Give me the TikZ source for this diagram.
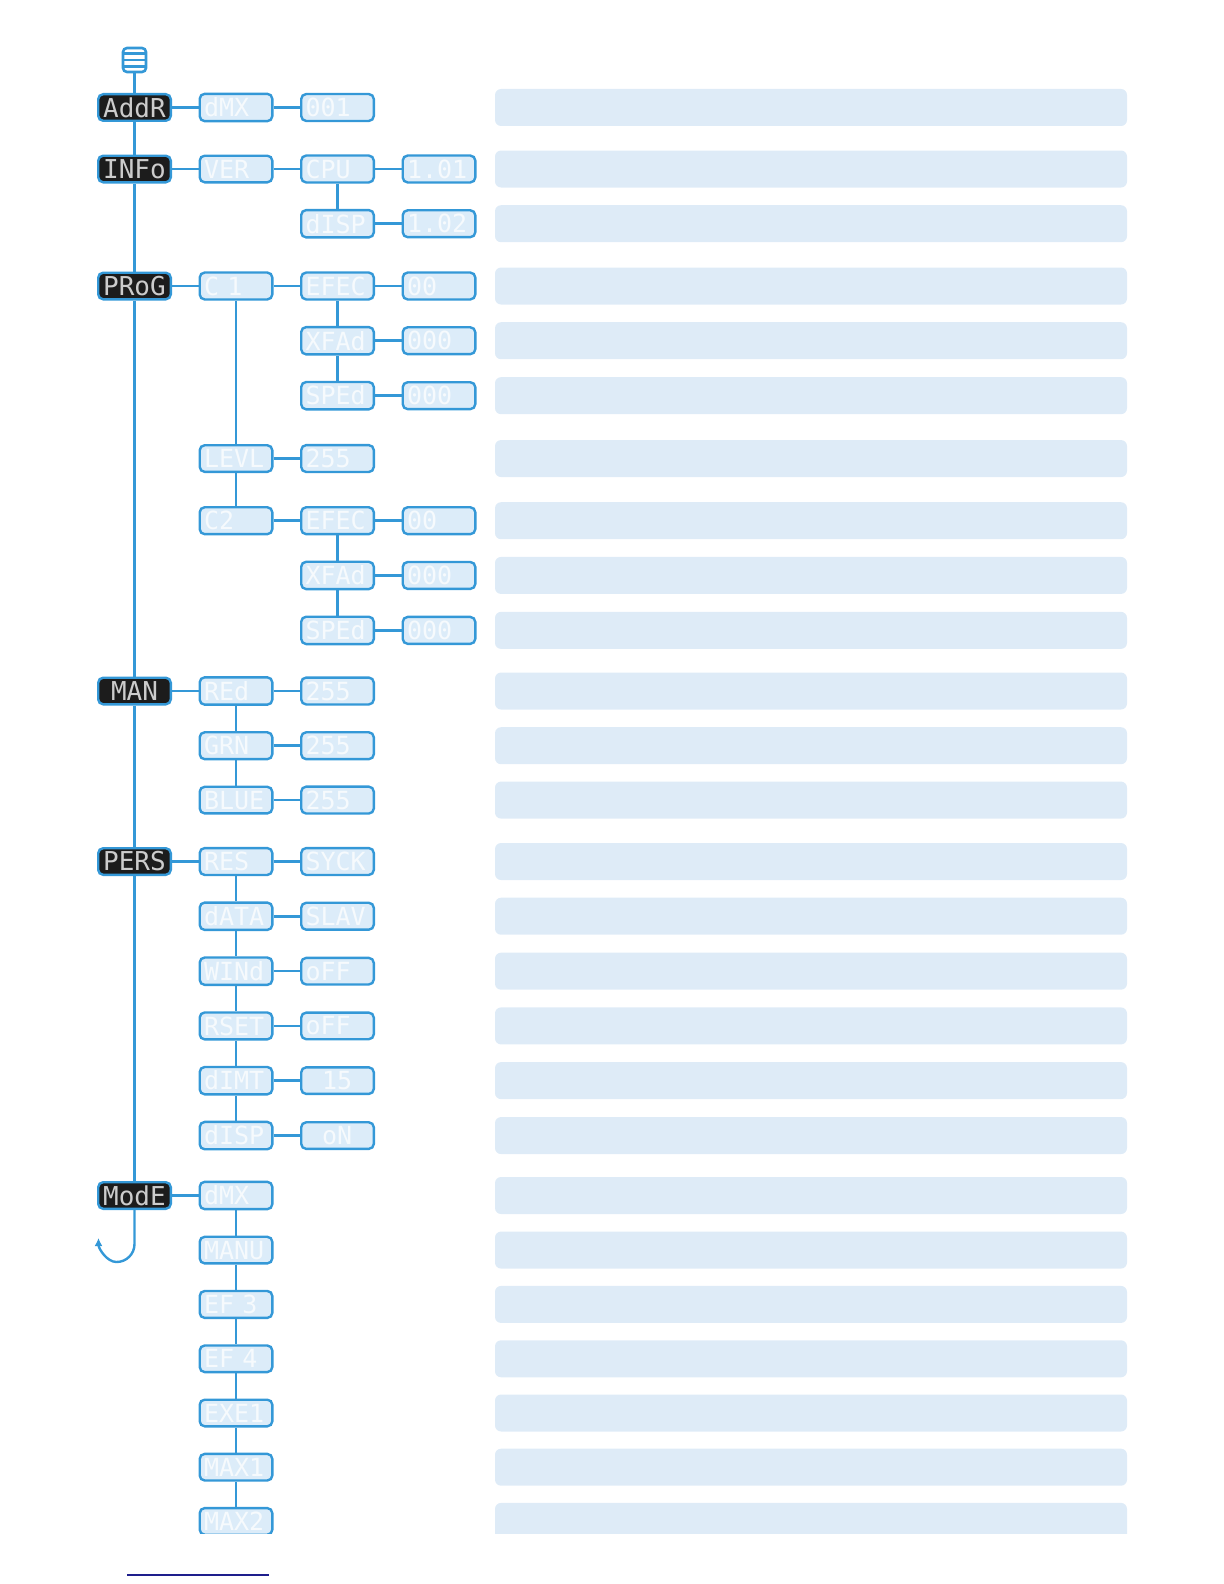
\documentclass[tikz,border=0pt]{standalone}
\usepackage{fontspec}
\usepackage{xcolor}
\usetikzlibrary{positioning, arrows.meta, calc}
\newfontfamily\lcdfont{DejaVu Sans Mono}
\definecolor{lineBlue}{RGB}{52,152,215}
\definecolor{boxBlue}{RGB}{220,236,249}
\definecolor{barBlue}{RGB}{222,235,247}
\definecolor{keyBlack}{RGB}{28,28,28}
\definecolor{navyLine}{RGB}{30,30,140}

\begin{document}
\begin{tikzpicture}[
    x=0.5pt, y=-0.5pt,
    node distance=12.6pt and 13.25pt,
    menukey/.style={
        rectangle,
        rounded corners=2.5pt,
        draw=lineBlue,
        line width=1.2pt,
        fill=keyBlack,
        text=white!80!black,
        font=\lcdfont\fontsize{13}{13}\selectfont,
        minimum width=36.3pt,
        minimum height=13.3pt,
        inner sep=0pt
    },
    lcd/.style={
        rectangle,
        rounded corners=2.5pt,
        draw=lineBlue,
        line width=1.2pt,
        fill=boxBlue,
        text=white!75!boxBlue,
        font=\lcdfont\fontsize{12.5}{12.5}\selectfont,
        text width=32pt,
        align=left,
        minimum width=36.3pt,
        minimum height=13.3pt,
        inner sep=2pt
    },
    descbar/.style={
        rectangle,
        rounded corners=3pt,
        fill=barBlue,
        minimum width=316pt,
        minimum height=18.5pt,
        inner sep=0pt
    },
    menuicon/.style={
        rectangle,
        rounded corners=2pt,
        draw=lineBlue,
        line width=1.3pt,
        fill=white,
        minimum width=11.5pt,
        minimum height=12pt,
        inner sep=0pt
    },
    link/.style={draw=lineBlue, line width=1.3pt},
    modelink/.style={draw=lineBlue, line width=0.7pt},
    loopback/.style={
        -{Latex[length=4pt, width=4pt]},
        draw=lineBlue,
        line width=1.2pt
    }
]
    \useasboundingbox (0,0) rectangle (1224,1584);

    \begin{scope}
    \clip (0,0) rectangle (1224,1533);

    % menu icon
    \node[menuicon] (menu) at (134.5,60) {};
    \foreach \k in {0.25,0.5,0.75}
        \draw[link] ($(menu.north west)!\k!(menu.south west)$) -- ($(menu.north east)!\k!(menu.south east)$);

    % address
    \node[menukey] (addr) at (134.5,107.5) {AddR};
    \node[lcd, right=of addr] (dmx) {dMX};
    \node[lcd, right=of dmx] (addrval) {001};

    % info
    \node[menukey] (info) at (134.5,169) {INFo};
    \node[lcd, right=of info] (ver) {VER};
    \node[lcd, right=of ver] (cpu) {CPU};
    \node[lcd, right=of cpu] (cpuval) {1.01};
    \node[lcd, below=of cpu] (disp) {dISP};
    \node[lcd, right=of disp] (dispval) {1.02};

    % programs
    \node[menukey] (prog) at (134.5,286) {PRoG};
    \node[lcd, right=of prog] (cha) {C~1};
    \node[lcd, right=of cha] (efeca) {EFEC};
    \node[lcd, right=of efeca] (efecaval) {00};
    \node[lcd, below=of efeca] (xfada) {XFAd};
    \node[lcd, right=of xfada] (xfadaval) {000};
    \node[lcd, below=of xfada] (speda) {SPEd};
    \node[lcd, right=of speda] (spedaval) {000};
    \coordinate (chaend) at (cha |- speda.south);
    \node[lcd, below=16.75pt of chaend] (levl) {LEVL};
    \node[lcd, right=of levl] (levlval) {255};
    \node[lcd, below=16.5pt of levl] (chb) {C2};
    \node[lcd, right=of chb] (efecb) {EFEC};
    \node[lcd, right=of efecb] (efecbval) {00};
    \node[lcd, below=of efecb] (xfadb) {XFAd};
    \node[lcd, right=of xfadb] (xfadbval) {000};
    \node[lcd, below=of xfadb] (spedb) {SPEd};
    \node[lcd, right=of spedb] (spedbval) {000};

    % manual
    \node[menukey] (man) at (134.5,691) {MAN};
    \node[lcd, right=of man] (redch) {REd};
    \node[lcd, right=of redch] (redval) {255};
    \node[lcd, below=of redch] (grnch) {GRN};
    \node[lcd, right=of grnch] (grnval) {255};
    \node[lcd, below=of grnch] (bluch) {BLUE};
    \node[lcd, right=of bluch] (bluval) {255};

    % personality
    \node[menukey] (pers) at (134.5,861.5) {PERS};
    \node[lcd, right=of pers] (res) {RES};
    \node[lcd, right=of res] (resval) {SYCK};
    \node[lcd, below=of res] (data) {dATA};
    \node[lcd, right=of data] (dataval) {SLAV};
    \node[lcd, below=of data] (wind) {WINd};
    \node[lcd, right=of wind] (windval) {oFF};
    \node[lcd, below=of wind] (rset) {RSET};
    \node[lcd, right=of rset] (rsetval) {oFF};
    \node[lcd, below=of rset] (dimt) {dIMT};
    \node[lcd, right=of dimt] (dimtval) {~~15};
    \node[lcd, below=of dimt] (dspl) {dISP};
    \node[lcd, right=of dspl] (dsplval) {~~oN};

    % mode
    \node[menukey] (mode) at (134.5,1195.5) {ModE};
    \node[lcd, right=of mode] (mdmx) {dMX};
    \node[lcd, below=of mdmx] (manu) {MANU};
    \node[lcd, below=of manu] (efthree) {EF~3};
    \node[lcd, below=of efthree] (effour) {EF~4};
    \node[lcd, below=of effour] (exe) {EXE1};
    \node[lcd, below=of exe] (maxone) {MAX1};
    \node[lcd, below=of maxone] (maxtwo) {MAX2};

    % description bars
    \coordinate (desc) at (811,0);
    \foreach \r in {addr,info,disp,prog,xfada,speda,levl,chb,xfadb,spedb,man,grnch,bluch,pers,data,wind,rset,dimt,dspl,mode,manu,efthree,effour,exe,maxone,maxtwo}
        \node[descbar] (bar-\r) at (desc |- \r) {};

    % trunk
    \draw[link] (menu) -- (addr) -- (info) -- (prog) -- (man) -- (pers) -- (mode);
    \coordinate (loopbottom) at (116.5,1262);
    \coordinate (loopend) at (98.5,1238);
    \draw[loopback] (mode.south) -- ++(0,34) .. controls +(0,10) and +(10,0) .. (loopbottom) .. controls +(-10,0) and +(0,10) .. (loopend);

    % branches
    \draw[link] (addr) -- (dmx) -- (addrval);
    \draw[link] (info) -- (ver) -- (cpu) -- (cpuval);
    \draw[link] (cpu) -- (disp) -- (dispval);
    \draw[link] (prog) -- (cha) -- (efeca) -- (efecaval);
    \draw[link] (efeca) -- (xfada) -- (speda);
    \draw[link] (xfada) -- (xfadaval);
    \draw[link] (speda) -- (spedaval);
    \draw[link] (cha) -- (levl) -- (chb);
    \draw[link] (levl) -- (levlval);
    \draw[link] (chb) -- (efecb) -- (efecbval);
    \draw[link] (efecb) -- (xfadb) -- (spedb);
    \draw[link] (xfadb) -- (xfadbval);
    \draw[link] (spedb) -- (spedbval);
    \draw[link] (man) -- (redch) -- (redval);
    \draw[link] (redch) -- (grnch) -- (bluch);
    \draw[link] (grnch) -- (grnval);
    \draw[link] (bluch) -- (bluval);
    \draw[link] (pers) -- (res) -- (resval);
    \draw[link] (res) -- (data) -- (wind) -- (rset) -- (dimt) -- (dspl);
    \draw[link] (data) -- (dataval);
    \draw[link] (wind) -- (windval);
    \draw[link] (rset) -- (rsetval);
    \draw[link] (dimt) -- (dimtval);
    \draw[link] (dspl) -- (dsplval);
    \draw[link] (mode) -- (mdmx);
    \draw[modelink] (mdmx) -- (manu) -- (efthree) -- (effour) -- (exe) -- (maxone) -- (maxtwo);
    \end{scope}

    % footer rule
    \draw[navyLine, line width=1pt] (127,1575) -- (269,1575);
\end{tikzpicture}
\end{document}
